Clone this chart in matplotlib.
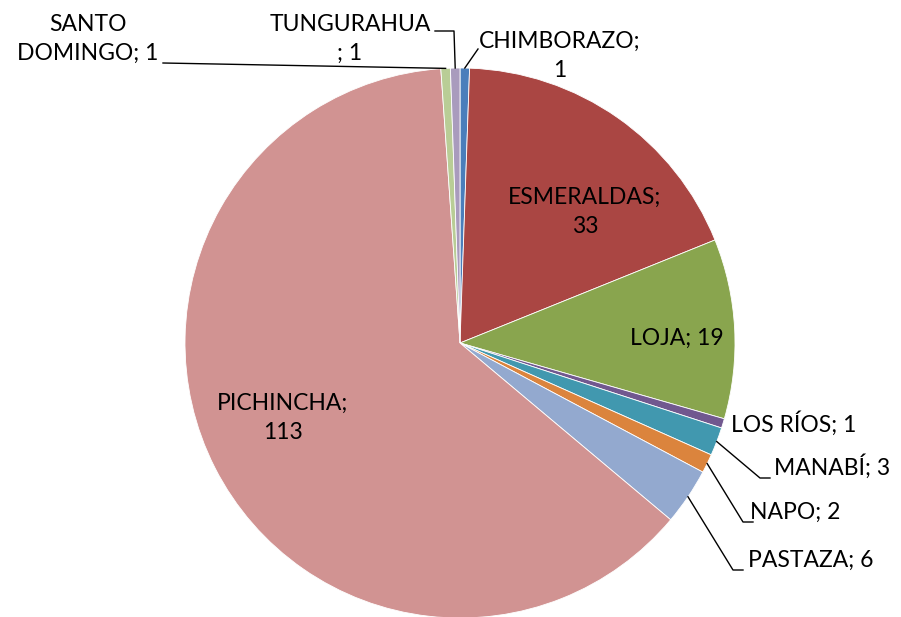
import numpy as np
import matplotlib.pyplot as plt

provincias = ["CHIMBORAZO", "ESMERALDAS", "LOJA", "LOS RÍOS", "MANABÍ",
              "NAPO", "PASTAZA", "PICHINCHA", "SANTO DOMINGO", "TUNGURAHUA"]
casos = [1, 33, 19, 1, 3, 2, 6, 113, 1, 1]
colores = ["#4A7EBB", "#AA4643", "#89A54E", "#71588F", "#4198AF",
           "#DB843D", "#93A9CF", "#D19392", "#B9CD96", "#A99BBD"]

W, H = 901, 617
plt.rcParams['font.family'] = ['Lato', 'DejaVu Sans']

fig = plt.figure(figsize=(W / 100, H / 100), dpi=100)
ax = fig.add_axes([0, 0, 1, 1])

cx, cy, r = 460, H - 343, 275
wedges, _ = ax.pie(casos, colors=colores, startangle=90, counterclock=False,
                   center=(cx, cy), radius=r, frame=True,
                   wedgeprops=dict(edgecolor='white', linewidth=0.6))
ax.set_xlim(0, W)
ax.set_ylim(0, H)
ax.set_aspect('equal')
ax.axis('off')

fs = 16.5


def edge(w, frac=1.0):
    a = np.deg2rad((w.theta1 + w.theta2) / 2)
    return cx + r * frac * np.cos(a), cy + r * frac * np.sin(a)


def py(y):
    return H - y


# labels inside
ax.text(585, py(212), "ESMERALDAS;\n33", ha='center', va='center', fontsize=fs, linespacing=1.45)
ax.text(677, py(338), "LOJA; 19", ha='center', va='center', fontsize=fs)
ax.text(283, py(418), "PICHINCHA;\n113", ha='center', va='center', fontsize=fs, linespacing=1.45)

# outside labels with leader lines
lw = 1.0
ax.text(731, py(424), "LOS RÍOS; 1", ha='left', va='center', fontsize=fs)

x0, y0 = edge(wedges[4])
ax.plot([x0, 760, 770], [y0, py(478), py(478)], color='black', lw=lw)
ax.text(774, py(467), "MANABÍ; 3", ha='left', va='center', fontsize=fs)

x0, y0 = edge(wedges[5])
ax.plot([x0, 743, 753], [y0, py(522), py(522)], color='black', lw=lw)
ax.text(750, py(512), "NAPO; 2", ha='left', va='center', fontsize=fs)

x0, y0 = edge(wedges[6])
ax.plot([x0, 733, 743], [y0, py(570), py(570)], color='black', lw=lw)
ax.text(748, py(560), "PASTAZA; 6", ha='left', va='center', fontsize=fs)

x0, y0 = edge(wedges[0])
ax.plot([x0, 478], [y0, py(49)], color='black', lw=lw)
ax.text(560, py(56), "CHIMBORAZO;\n1", ha='center', va='center', fontsize=fs, linespacing=1.45)

x0, y0 = edge(wedges[9])
ax.plot([x0, 454, 435], [y0, py(31), py(31)], color='black', lw=lw)
ax.text(350, py(39), "TUNGURAHUA\n; 1", ha='center', va='center', fontsize=fs, linespacing=1.45)

x0, y0 = edge(wedges[8])
ax.plot([x0, 163], [y0, py(63)], color='black', lw=lw)
ax.text(88, py(39), "SANTO\nDOMINGO; 1", ha='center', va='center', fontsize=fs, linespacing=1.45)

fig.savefig("out.png", dpi=100)
